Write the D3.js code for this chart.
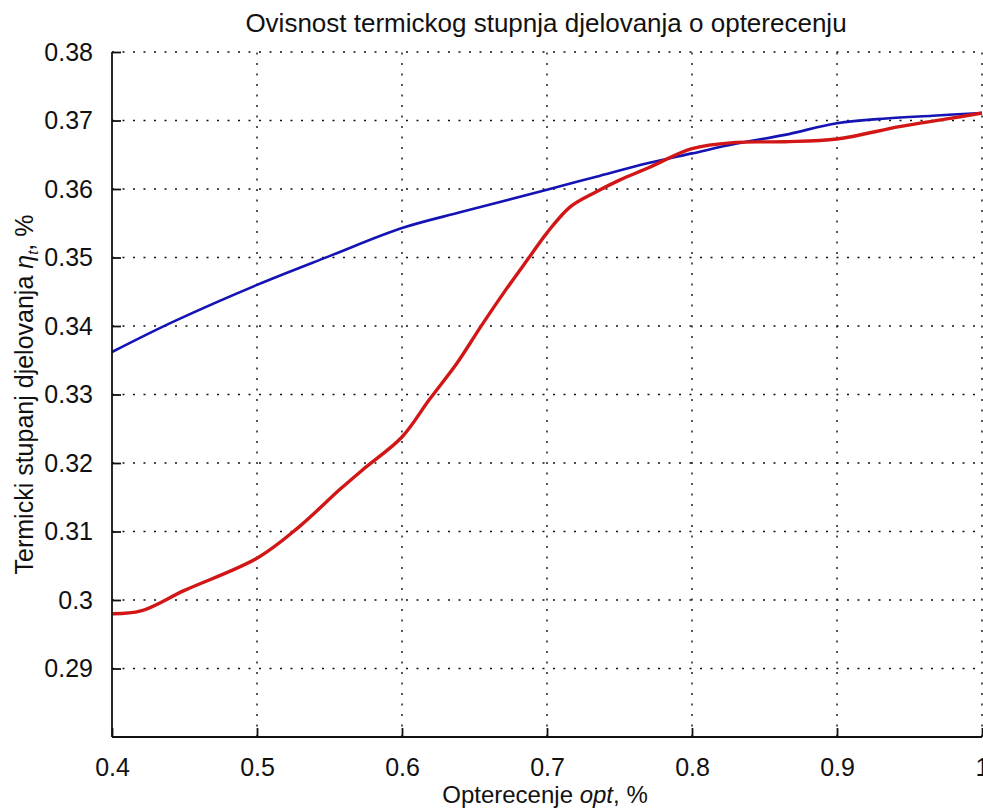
<!DOCTYPE html>
<html>
<head>
<meta charset="utf-8">
<script src="https://cdn.jsdelivr.net/npm/d3@7"></script>
<style>
  html, body { margin: 0; padding: 0; background: #fff; }
  svg { display: block; }
  text { font-family: "Liberation Sans", Arial, sans-serif; fill: #111; }
</style>
</head>
<body>
<svg id="chart" width="983" height="812"></svg>
<script>
// ---- data ----
const blueX = [0.40, 0.442, 0.50, 0.55, 0.60, 0.642, 0.70, 0.734, 0.77, 0.80, 0.83, 0.864, 0.90, 0.934, 0.966, 1.00];
const blueY = [0.3362, 0.3406, 0.3460, 0.3502, 0.3543, 0.3567, 0.3599, 0.3618, 0.3638, 0.3652, 0.3666, 0.3679, 0.3696, 0.3703, 0.3707, 0.3711];

const redX = [0.40, 0.42, 0.45, 0.50, 0.528, 0.558, 0.5745, 0.60, 0.619, 0.638, 0.654, 0.670, 0.688, 0.70, 0.716, 0.734, 0.750, 0.770, 0.80, 0.83, 0.864, 0.90, 0.943, 0.978, 1.00];
const redY = [0.2980, 0.2984, 0.3014, 0.3061, 0.3105, 0.3163, 0.3193, 0.3238, 0.3293, 0.3346, 0.3398, 0.3448, 0.3501, 0.3536, 0.3574, 0.3596, 0.3613, 0.3631, 0.3659, 0.3668, 0.3669, 0.3673, 0.3691, 0.3703, 0.3711];

const xTicks = [0.4, 0.5, 0.6, 0.7, 0.8, 0.9, 1.0];
const xTickLabels = ["0.4", "0.5", "0.6", "0.7", "0.8", "0.9", "1"];
const yTicks = [0.29, 0.30, 0.31, 0.32, 0.33, 0.34, 0.35, 0.36, 0.37, 0.38];
const yTickLabels = ["0.29", "0.3", "0.31", "0.32", "0.33", "0.34", "0.35", "0.36", "0.37", "0.38"];

const titleText = "Ovisnost termickog stupnja djelovanja o opterecenju";

// ---- layout ----
const L = 112, R = 982, T = 52, B = 737;
const svg = d3.select("#chart");
const x = d3.scaleLinear().domain([0.4, 1.0]).range([L, R]);
const y = d3.scaleLinear().domain([0.28, 0.38]).range([B, T]);

// grid
const grid = svg.append("g").attr("stroke", "#111").attr("stroke-width", 1.4).attr("stroke-dasharray", "2,8.5");
grid.selectAll("line.vx").data(xTicks.slice(1)).join("line")
  .attr("x1", d => x(d)).attr("x2", d => x(d)).attr("y1", B).attr("y2", T);
grid.selectAll("line.hy").data(yTicks).join("line")
  .attr("x1", L).attr("x2", R).attr("y1", d => y(d)).attr("y2", d => y(d));

// lines
const line = d3.line().x(d => x(d[0])).y(d => y(d[1])).curve(d3.curveCatmullRom.alpha(0.5));
svg.append("path").datum(blueX.map((v, i) => [v, blueY[i]]))
  .attr("d", line).attr("fill", "none").attr("stroke", "#1414b4").attr("stroke-width", 2.6);
svg.append("path").datum(redX.map((v, i) => [v, redY[i]]))
  .attr("d", line).attr("fill", "none").attr("stroke", "#d21616").attr("stroke-width", 3.4);

// axes
const xAxis = d3.axisBottom(x).tickValues(xTicks).tickFormat((d, i) => xTickLabels[i]).tickSize(-9).tickPadding(21);
const gx = svg.append("g").attr("transform", `translate(0,${B})`).call(xAxis);
const yAxis = d3.axisLeft(y).tickValues(yTicks).tickFormat((d, i) => yTickLabels[i]).tickSize(-9).tickPadding(19);
const gy = svg.append("g").attr("transform", `translate(${L},0)`).call(yAxis);
[gx, gy].forEach(g => {
  g.select(".domain").attr("stroke", "#111").attr("stroke-width", 1.8);
  g.selectAll(".tick line").attr("stroke", "#111").attr("stroke-width", 1.8);
  g.selectAll(".tick text").attr("font-family", "Liberation Sans, Arial, sans-serif").attr("font-size", 25).attr("fill", "#111");
});
gx.select(".domain").attr("d", `M${L},0H${R}`);
gy.select(".domain").attr("d", `M0,${B}V${T}`);

// title
svg.append("text").attr("x", 546).attr("y", 32).attr("text-anchor", "middle")
  .attr("font-size", 26).text(titleText);

// x label
const xl = svg.append("text").attr("x", 545).attr("y", 803).attr("text-anchor", "middle").attr("font-size", 24);
xl.append("tspan").text("Opterecenje ");
xl.append("tspan").attr("font-style", "italic").text("opt");
xl.append("tspan").text(", %");

// y label
const yl = svg.append("text").attr("transform", `translate(33,${(T + B) / 2}) rotate(-90)`)
  .attr("text-anchor", "middle").attr("font-size", 25);
yl.append("tspan").text("Termicki stupanj djelovanja ");
yl.append("tspan").attr("font-style", "italic").text("η");
yl.append("tspan").attr("font-style", "italic").attr("font-size", 15).attr("dy", 5).text("t");
yl.append("tspan").attr("dy", -5).text(", %");
</script>
</body>
</html>
